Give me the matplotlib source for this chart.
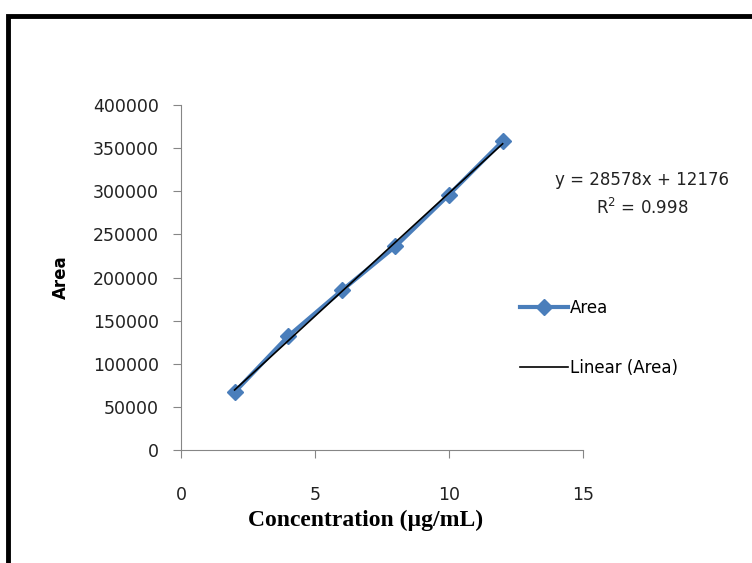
import matplotlib.pyplot as plt
import numpy as np
from matplotlib.patches import Rectangle

conc = [2, 4, 6, 8, 10, 12]
area = [67000, 132000, 185000, 236000, 296000, 358000]
eq_text = "y = 28578x + 12176"
r2_text = "R$^2$ = 0.998"

fig = plt.figure(figsize=(7.52, 5.63), dpi=100)
ax = fig.add_axes([0.2407, 0.2007, 0.5346, 0.6128])

blue = "#4A7EBB"
ax.plot(conc, area, color=blue, lw=3, marker="D", ms=8.5, label="Area")

coef = np.polyfit(conc, area, 1)
xs = np.array([conc[0], conc[-1]])
ax.plot(xs, np.polyval(coef, xs), color="black", lw=1.2, label="Linear (Area)")

ax.set_xlim(0, 15)
ax.set_ylim(0, 400000)
ax.set_xticks([0, 5, 10, 15])
ax.set_yticks(np.arange(0, 400001, 50000))

for s in ["top", "right"]:
    ax.spines[s].set_visible(False)
for s in ["left", "bottom"]:
    ax.spines[s].set_color("#868686")
ax.tick_params(color="#868686", length=6, labelsize=12.5, labelcolor="#222222")
ax.tick_params(axis="y", pad=10)
ax.tick_params(axis="x", pad=20)

ax.set_xlabel("Concentration (\u00b5g/mL)", family="Liberation Serif", fontweight="bold",
              fontsize=17, va="center")
ax.xaxis.set_label_coords((366 - 181) / 402, (450 - 520) / 345)
ax.set_ylabel("Area", fontweight="bold", fontsize=12, va="center")
ax.yaxis.set_label_coords((61 - 181) / 402, (450 - 277) / 345)

fig.text(642 / 752, 1 - 180 / 563, eq_text, ha="center", va="center",
         fontsize=12, color="#222222")
fig.text(642 / 752, 1 - 208 / 563, r2_text, ha="center", va="center",
         fontsize=12, color="#222222")

leg = fig.legend(loc="center left", bbox_to_anchor=(520 / 752, 1 - 338 / 563),
                 frameon=False, labelspacing=2.55, handlelength=2.9, handletextpad=0.1,
                 borderpad=0, borderaxespad=0, prop={"size": 12})

fig.patches.append(Rectangle((8 / 752, -0.2), 1.5, 1 - 16 / 563 + 0.2,
                             transform=fig.transFigure, fill=False,
                             edgecolor="black", lw=3.5))

fig.savefig("out.png", dpi=100)
